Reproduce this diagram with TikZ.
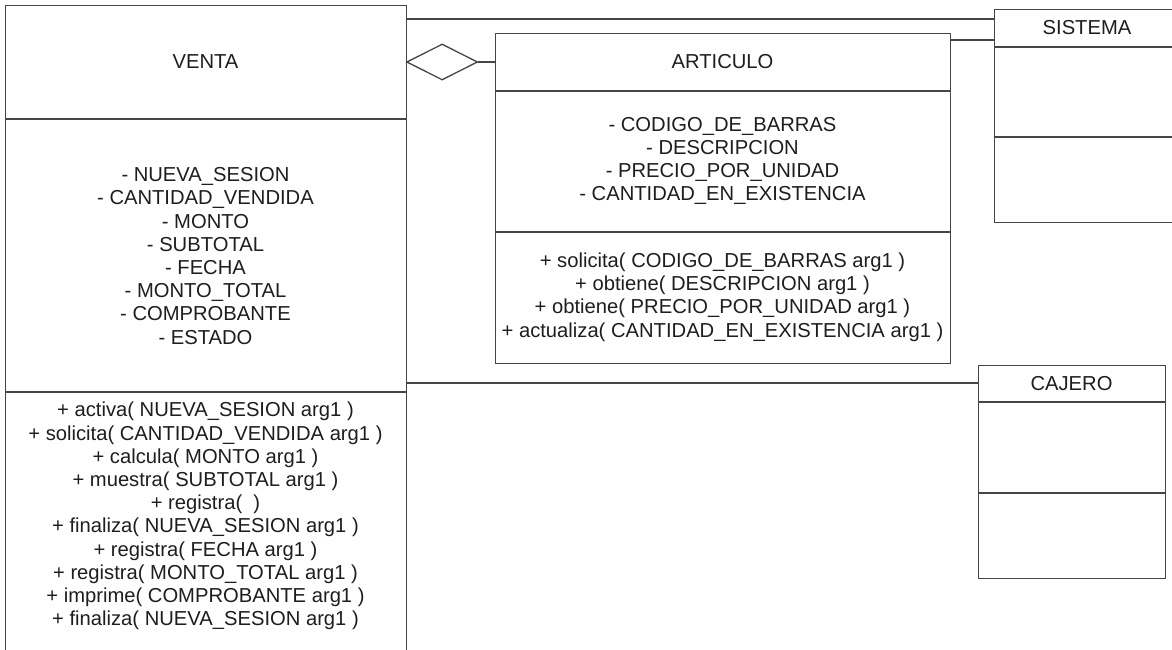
\documentclass[tikz,border=0pt]{standalone}
\usepackage{fontspec}
\setmainfont{Liberation Sans}
\usetikzlibrary{shapes.geometric}
\definecolor{ln}{HTML}{454545}
\definecolor{tx}{HTML}{1E1E1E}
\begin{document}
\begin{tikzpicture}[x=1pt,y=-1pt,
  classbox/.style={draw=ln,line width=1.4pt,fill=white,inner sep=0pt,anchor=north west},
  rule/.style={draw=ln,line width=1.4pt},
  conn/.style={draw=ln,line width=1.3pt},
  txt/.style={text=tx,align=center,font=\fontsize{20.2}{23.2}\selectfont,inner sep=0pt}]
\clip (0,0) rectangle (1172,650);
\fill[white] (0,0) rectangle (1172,650);
% VENTA
\node[classbox,minimum width=401pt,minimum height=670pt] (venta) at (5,5) {};
\draw[rule] (5,119) -- (406,119);
\draw[rule] (5,392) -- (406,392);
\node[txt] (ventaT) at (205.5,62) {VENTA};
\node[txt] (ventaA) at (205.5,256) {- NUEVA\_SESION\\- CANTIDAD\_VENDIDA\\- MONTO\\- SUBTOTAL\\- FECHA\\- MONTO\_TOTAL\\- COMPROBANTE\\- ESTADO};
\node[txt] (ventaM) at (205.5,516) {+ activa( NUEVA\_SESION arg1 )\\+ solicita( CANTIDAD\_VENDIDA arg1 )\\+ calcula( MONTO arg1 )\\+ muestra( SUBTOTAL arg1 )\\+ registra(~~)\\+ finaliza( NUEVA\_SESION arg1 )\\+ registra( FECHA arg1 )\\+ registra( MONTO\_TOTAL arg1 )\\+ imprime( COMPROBANTE arg1 )\\+ finaliza( NUEVA\_SESION arg1 )};
% ARTICULO
\node[classbox,minimum width=455pt,minimum height=330pt] (articulo) at (495,33) {};
\draw[rule] (495,91) -- (950,91);
\draw[rule] (495,232) -- (950,232);
\node[txt] (articuloT) at (722.5,62) {ARTICULO};
\node[txt] (articuloA) at (722.5,161) {- CODIGO\_DE\_BARRAS\\- DESCRIPCION\\- PRECIO\_POR\_UNIDAD\\- CANTIDAD\_EN\_EXISTENCIA};
\node[txt] (articuloM) at (722.5,297) {+ solicita( CODIGO\_DE\_BARRAS arg1 )\\+ obtiene( DESCRIPCION arg1 )\\+ obtiene( PRECIO\_POR\_UNIDAD arg1 )\\+ actualiza( CANTIDAD\_EN\_EXISTENCIA arg1 )};
% SISTEMA
\node[classbox,minimum width=186pt,minimum height=213pt] (sistema) at (994,9) {};
\draw[rule] (994,47) -- (1180,47);
\draw[rule] (994,137) -- (1180,137);
\node[txt] (sistemaT) at (1087,28) {SISTEMA};
% CAJERO
\node[classbox,minimum width=187pt,minimum height=213pt] (cajero) at (978,365) {};
\draw[rule] (978,402) -- (1165,402);
\draw[rule] (978,493) -- (1165,493);
\node[txt] (cajeroT) at (1071.5,383.5) {CAJERO};
% connectors
\coordinate (y19) at (0,19);
\coordinate (y40) at (0,40);
\coordinate (y383) at (0,383);
\draw[conn] (venta.east |- y19) -- (sistema.west |- y19);
\draw[conn] (articulo.east |- y40) -- (sistema.west |- y40);
\draw[conn] (venta.east |- y383) -- (cajero.west |- y383);
\node[diamond,draw=ln,line width=1.3pt,fill=white,inner sep=0pt,minimum width=71pt,minimum height=36pt,anchor=west] (agg) at (406,62) {};
\draw[conn] (agg.east) -- (articulo.west |- agg.east);
\end{tikzpicture}
\end{document}
